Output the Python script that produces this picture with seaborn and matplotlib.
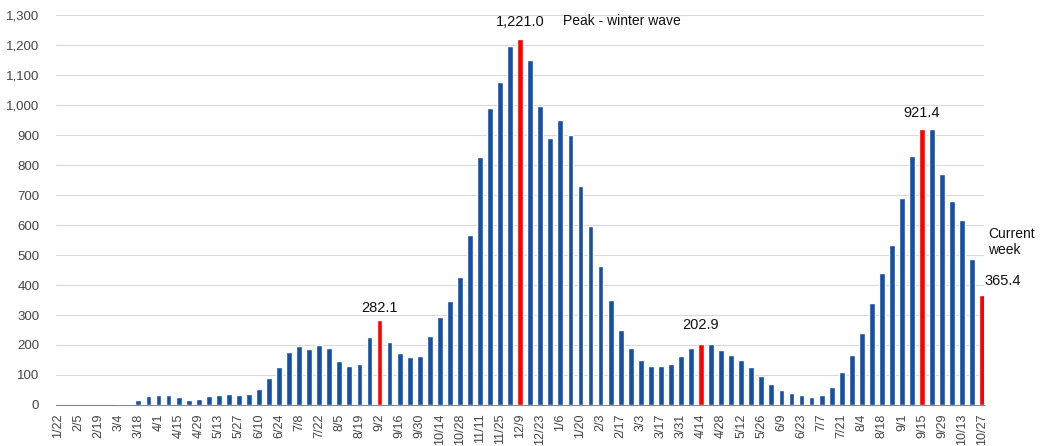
import numpy as np
import pandas as pd
import seaborn as sns
import matplotlib.pyplot as plt

# weekly values, 1/22/2020 -> 10/27/2021
weeks = ["1/22", "1/29", "2/5", "2/12", "2/19", "2/26", "3/4", "3/11", "3/18", "3/25",
         "4/1", "4/8", "4/15", "4/22", "4/29", "5/6", "5/13", "5/20", "5/27", "6/3",
         "6/10", "6/17", "6/24", "7/1", "7/8", "7/15", "7/22", "7/29", "8/5", "8/12",
         "8/19", "8/26", "9/2", "9/9", "9/16", "9/23", "9/30", "10/7", "10/14", "10/21",
         "10/28", "11/4", "11/11", "11/18", "11/25", "12/2", "12/9", "12/16", "12/23", "12/30",
         "1/6", "1/13", "1/20", "1/27", "2/3", "2/10", "2/17", "2/24", "3/3", "3/10",
         "3/17", "3/24", "3/31", "4/7", "4/14", "4/21", "4/28", "5/5", "5/12", "5/19",
         "5/26", "6/2", "6/9", "6/16", "6/23", "6/30", "7/7", "7/14", "7/21", "7/28",
         "8/4", "8/11", "8/18", "8/25", "9/1", "9/8", "9/15", "9/22", "9/29", "10/6",
         "10/13", "10/20", "10/27"]
values = [1, 1, 1, 1, 1, 1, 2, 3, 18, 29,
          34, 33, 26, 18, 21, 30, 33, 35, 34, 36,
          54, 91, 127, 177, 198, 187, 200, 189, 148, 131,
          137, 227, 282.1, 211, 173, 161, 164, 229, 293, 346,
          426, 566, 828, 992, 1077, 1196, 1221.0, 1150, 996, 892,
          949, 902, 729, 598, 462, 349, 251, 190, 151, 129,
          129, 137, 164, 189, 202.9, 204, 183, 166, 150, 126,
          96, 70, 51, 41, 32, 28, 34, 61, 109, 166,
          239, 340, 439, 532, 691, 829, 921.4, 922, 769, 680,
          616, 487, 365.4]
highlight_idx = [32, 46, 64, 86, 92]
labels = {32: "282.1", 46: "1,221.0", 64: "202.9", 86: "921.4", 92: "365.4"}

df = pd.DataFrame({"pos": np.arange(len(values)), "value": values})
df["hl"] = df["pos"].isin(highlight_idx)

sns.set_style("white")
plt.rcParams['font.family'] = ['Liberation Sans', 'DejaVu Sans']

fig = plt.figure(figsize=(10.49, 4.46), dpi=100)
ax = fig.add_axes([0.0534, 0.092, 0.885, 0.874])

sns.barplot(data=df, x="pos", y="value", hue="hl", palette={False: "#1650a6", True: "#ff0000"},
            dodge=False, width=0.58, saturation=1, legend=False, ax=ax, zorder=3)

ax.set_ylim(0, 1300)
ax.set_xlim(-0.2, len(values) - 0.8)
yt = np.arange(0, 1301, 100)
ax.set_yticks(yt)
ax.set_yticklabels([f"{v:,}" for v in yt], fontsize=9.5, color="#444444")
ax.yaxis.grid(True, color="#d9d9d9", lw=0.8, zorder=0)
ax.tick_params(axis="y", length=0, pad=12)

xt = list(range(0, len(weeks), 2))
ax.set_xticks(xt)
ax.set_xticklabels([weeks[i] for i in xt], rotation=90, fontsize=9, color="#444444")
ax.tick_params(axis="x", length=4, color="#888888", pad=2)
ax.set_xlabel("")
ax.set_ylabel("")

for s in ["top", "right", "left"]:
    ax.spines[s].set_visible(False)
ax.spines["bottom"].set_color("#888888")
ax.spines["bottom"].set_linewidth(0.8)

fs = 10.5
tc = "#111111"
ax.text(32, 300, labels[32], ha="center", va="bottom", fontsize=fs, color=tc)
ax.text(46, 1255, labels[46], ha="center", va="bottom", fontsize=fs, color=tc)
ax.text(50.3, 1258, "Peak - winter wave", ha="left", va="bottom", fontsize=10, color=tc)
ax.text(64, 242, labels[64], ha="center", va="bottom", fontsize=fs, color=tc)
ax.text(86, 950, labels[86], ha="center", va="bottom", fontsize=fs, color=tc)
ax.text(92.6, 495, "Current\nweek", ha="left", va="bottom", fontsize=10, color=tc,
        linespacing=1.1, clip_on=False)
ax.text(92.2, 390, labels[92], ha="left", va="bottom", fontsize=fs, color=tc, clip_on=False)

fig.savefig("out.png", dpi=100)
